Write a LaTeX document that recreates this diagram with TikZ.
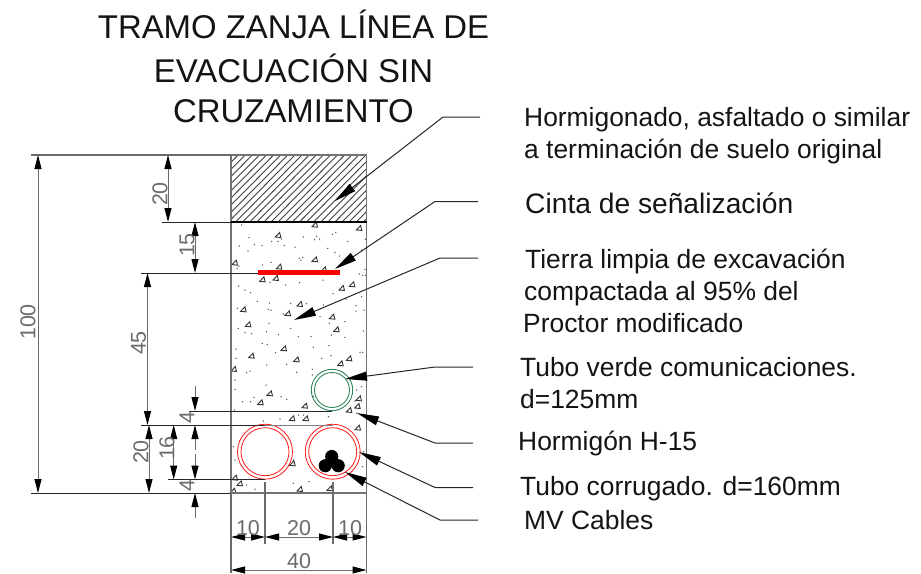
\documentclass[tikz,border=0pt]{standalone}
\usepackage{fontspec}
\setmainfont{Liberation Sans}
\usetikzlibrary{arrows.meta}
\definecolor{dimgr}{gray}{0.42}
\definecolor{txtk}{gray}{0.08}
\definecolor{pipegreen}{RGB}{50,135,90}
\tikzset{
  titletext/.style={inner sep=0,anchor=base,font=\fontsize{32.9}{36}\selectfont,text=txtk},
  labeltext/.style={inner sep=0,anchor=base west,font=\fontsize{26.4}{28}\selectfont,text=txtk},
  dimtext/.style={inner sep=0,anchor=center,font=\fontsize{21.5}{22}\selectfont,text=dimgr},
  dimtip/.tip={Triangle[length=14pt,width=7pt,color=black,fill=black]},
  dimline/.style={draw=dimgr,line width=1pt,{dimtip}-{dimtip}},
  dimhalf/.style={draw=dimgr,line width=1pt,-{dimtip}},
  extline/.style={draw=black!85,line width=1pt},
  extgray/.style={draw=dimgr,line width=1.2pt},
  leader/.style={draw=black!85,line width=1pt,-{Triangle[length=22pt,width=9pt,color=black,fill=black]}},
  boxline/.style={draw=black!55,line width=1.4pt},
  hatchline/.style={draw=black!75,line width=.9pt},
  stone/.style={draw=black!80,line width=.9pt},
  speck/.style={fill=black!70},
  pipered/.style={draw=red!90!white,line width=.8pt},
}
\begin{document}
\begin{tikzpicture}[x=1pt,y=-1pt]
\useasboundingbox (0,0) rectangle (921,573);
% frame points
\coordinate (TL) at (231,155); \coordinate (TR) at (366.5,155);
\coordinate (ML) at (231,222); \coordinate (MR) at (366.5,222);
\coordinate (BL) at (231,493); \coordinate (BR) at (366.5,493);
% hatch
\begin{scope}
\clip (TL) rectangle (MR);
\foreach \k in {0,...,30} \draw[hatchline] ({231+\k*7.1-67},222.5) -- ({231+\k*7.1},155);
\end{scope}
% specks (zoom A)
\foreach \a/\b in {65/255,87/293,58/318,84/333,103/314,126/317,155/304,174/304,185/297,193/316,225/321,250/291,290/289,283/299,299/297,337/283,347/277,383/304,323/325,345/338,359/348,424/330,436/298,238/355,248/352,243/360,153/367,127/375,52/385,57/378,56/438,75/450,91/458,112/484,148/489,212/490,260/491,310/495,191/522,147/550,52/505,145/508,153/510,300/530,328/550,375/545,408/497,408/513,432/510,425/470,339/461,378/477,418/402,428/406,437/406,435/388,309/420,239/428,197/435,150/427,212/565,75/578,95/581,140/575,175/584,235/590,273/590,335/585,375/592,430/573,55/565}
  \fill[speck] ({220+\a/3},{140+\b/3}) circle (.75);
% specks (zoom B)
\foreach \a/\b in {397/10,412/13,550/22,597/17,690/37,698/37,318/27,437/38,575/55,603/47,318/55,410/75,470/73,500/97,547/88,547/105,350/98,360/93,315/120,408/135,315/148,453/170,470/178,337/185,372/172,362/185,550/170,313/210,505/225,450/237,520/225,595/230,400/243,305/265,490/430,537/425,375/447,350/435,700/335,698/380,695/140,680/150,675/183,490/360,680/220,310/320,315/360}
  \fill[speck] ({130+\a/3},{340+\b/3}) circle (.75);
% stones
\foreach \a/\b in {285/254,418/264,175/285,285/358,45/368,178/380,312/388,128/418,168/414,366/444,397/433,240/492,71/508,204/520,337/530,85/553,350/568}
  \draw[stone] ({220+\a/3-3},{140+\b/3+2}) -- ++(5.5,.5) -- ++(-1.2,-5) -- cycle;
\foreach \a/\b in {462/25,365/47,500/58,658/55,632/70,312/87,420/160,392/187,525/197,687/175,683/198,658/210,487/235,528/235,684/263,488/370,315/413,330/430,510/447,600/445,310/452}
  \draw[stone] ({130+\a/3-3},{340+\b/3+2}) -- ++(5.5,.5) -- ++(-1.2,-5) -- cycle;
% frame
\draw[boxline] (ML) -- (TL) -- (TR) -- (BR) -- (BL) -- cycle;
\draw[draw=black,line width=1.3pt] (ML) -- (MR);
% concrete top and pipes
\coordinate (CTA) at (333,425);
\draw[pipered] (265,451.7) circle (27.5) (265,451.7) circle (24);
\draw[pipered] (332.7,451.7) circle (27.5) (332.7,451.7) circle (24);
\draw[draw=pipegreen,line width=.9pt] (332,390) circle (20.7) (332,390) circle (17.5);
\fill[black] (331.7,456.5) circle (6.6) (325.3,465.7) circle (6.6) (338.2,465.7) circle (6.6);
\fill[black] (331.7,462) circle (5);
% tape
\draw[draw=red,line width=5pt] (258,272.5) -- (340,272.5);
% extension lines
\draw[extgray] (31,155) -- (TL);
\draw[extline] (162,222) -- (ML);
\draw[extline] (141,273) -- (258,273);
\draw[extline] (189,411) -- (332,411);
\draw[extline] (141,425) -- (265,425);
\draw[draw=black!50,line width=.8pt] (265,425) -- (CTA);
\draw[extline] (168,479.5) -- (265,479.5);
\draw[extline] (31,493) -- (BL);
\draw[extgray] (BL) -- (231,573);
\draw[extgray] (BR) -- (366.5,573);
\draw[extgray] (265,482) -- (265,544);
\draw[extgray] (333,482) -- (333,544);
% vertical dimensions
\draw[dimline] (38,155) -- (38,493);
\draw[dimline] (168,155) -- (168,222);
\draw[dimline] (195,222) -- (195,273);
\draw[dimline] (147.5,273) -- (147.5,425);
\draw[dimline] (149,425) -- (149,493);
\draw[dimline] (173.7,425) -- (173.7,479.5);
\draw[dimhalf] (195,386) -- (195,411);
\draw[dimhalf] (195,450) -- (195,425);
\draw[dimhalf] (195,454) -- (195,479.5);
\draw[dimhalf] (195,518) -- (195,493);
% horizontal dimensions
\draw[dimline] (231,537) -- (265,537);
\draw[dimline] (265,537) -- (333,537);
\draw[dimline] (333,537) -- (366.5,537);
\draw[dimline] (231,570) -- (366.5,570);
% dimension texts
\node[dimtext,rotate=90] (d100) at (28,322) {100};
\node[dimtext,rotate=90] (d20a) at (160,194) {20};
\node[dimtext,rotate=90] (d15) at (187,245) {15};
\node[dimtext,rotate=90] (d45) at (138.5,343) {45};
\node[dimtext,rotate=90] (d20b) at (141,452) {20};
\node[dimtext,rotate=90] (d16) at (167,448) {16};
\node[dimtext,rotate=90] (d4a) at (187,418) {4};
\node[dimtext,rotate=90] (d4b) at (187,486) {4};
\node[dimtext] (d10a) at (248,528) {10};
\node[dimtext] (d20c) at (299,528) {20};
\node[dimtext] (d10b) at (350,528) {10};
\node[dimtext] (d40) at (299,561) {40};
% title
\node[titletext] (t1) at (293.5,38) {TRAMO ZANJA LÍNEA DE};
\node[titletext] (t2) at (293.5,82) {EVACUACIÓN SIN};
\node[titletext] (t3) at (293.5,122) {CRUZAMIENTO};
% labels
\node[labeltext] (l1a) at (524,126) {Hormigonado, asfaltado o similar};
\node[labeltext] (l1b) at (524,158) {a terminación de suelo original};
\node[labeltext,font=\fontsize{28.2}{30}\selectfont] (l2) at (525,213) {Cinta de señalización};
\node[labeltext] (l3a) at (525,268) {Tierra limpia de excavación};
\node[labeltext] (l3b) at (524,300) {compactada al 95\% del};
\node[labeltext] (l3c) at (523,332) {Proctor modificado};
\node[labeltext] (l4a) at (520,376) {Tubo verde comunicaciones.};
\node[labeltext] (l4b) at (520,408) {d=125mm};
\node[labeltext] (l5) at (518,450) {Hormigón H-15};
\node[labeltext] (l6) at (520,495) {Tubo corrugado. d=160mm};
\node[labeltext] (l7) at (524,529) {MV Cables};
% leaders
\coordinate (a1) at (480,117); \coordinate (b1) at (443,117); \coordinate (c1) at (335,201);
\coordinate (a2) at (478,201.5); \coordinate (b2) at (435,201.5); \coordinate (c2) at (335,269);
\coordinate (a3) at (478,258); \coordinate (b3) at (440,258); \coordinate (c3) at (294,320);
\coordinate (a4) at (473,367); \coordinate (b4) at (435,367); \coordinate (c4) at (345,379);
\coordinate (a5) at (473,443); \coordinate (b5) at (435,443); \coordinate (c5) at (357,413);
\coordinate (a6) at (473,487.5); \coordinate (b6) at (435,487.5); \coordinate (c6) at (359,452);
\coordinate (a7) at (478,520); \coordinate (b7) at (440,520); \coordinate (c7) at (345,472);
\foreach \i in {1,...,7} \draw[leader] (a\i) -- (b\i) -- (c\i);
\end{tikzpicture}
\end{document}
